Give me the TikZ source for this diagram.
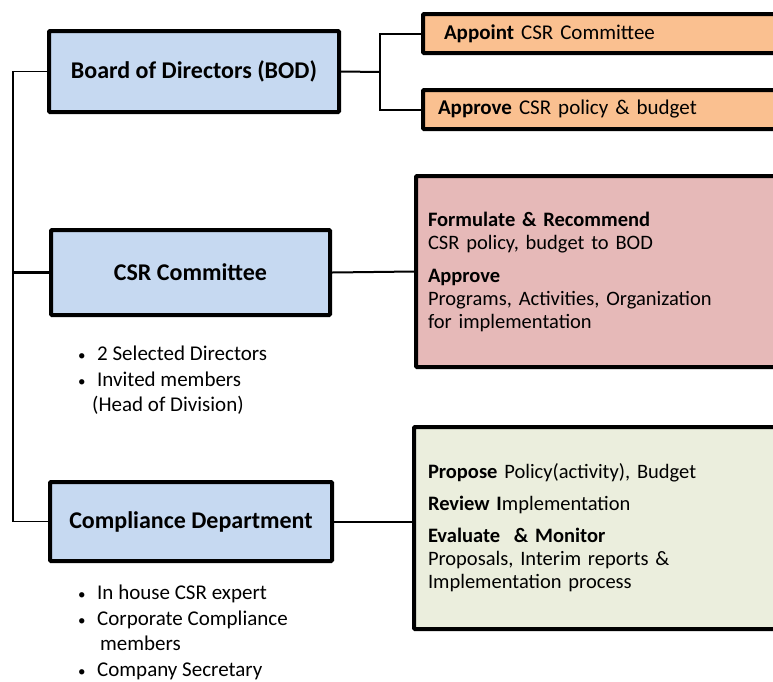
\documentclass[tikz,border=0pt]{standalone}
\usepackage{fontspec}
\setmainfont{Carlito}
\usepackage{xcolor}
\usepackage{tikz}
\usetikzlibrary{positioning, calc}
\definecolor{unitblue}{HTML}{C6D9F1}
\definecolor{taskorange}{HTML}{FAC090}
\definecolor{taskpink}{HTML}{E6B9B8}
\definecolor{taskgreen}{HTML}{EBEEDD}
\tikzstyle{unit} = [rectangle, rounded corners=1pt, draw=black, line width=4pt, fill=unitblue, text centered, font=\bfseries\fontsize{24}{28}\selectfont]
\tikzstyle{task} = [rectangle, rounded corners=1pt, draw=black, line width=4pt, anchor=west, text width=360pt, align=left, inner xsep=14pt, font=\fontsize{20.5}{23}\selectfont]
\tikzstyle{members} = [anchor=north west, align=left, inner sep=0pt, font=\fontsize{21}{25.5}\selectfont]
\tikzstyle{link} = [line width=2pt]
\newcommand{\bul}{\makebox[19pt][l]{\fontsize{15}{15}\selectfont\textbullet}}

\begin{document}
\begin{tikzpicture}[x=1pt, y=-1pt]
\clip (0,0) rectangle (773,681);

% Units on the left
\node (bod) [unit, minimum width=290pt, minimum height=81pt] at (194,71.5) {Board of Directors (BOD)};
\node (csr) [unit, minimum width=279pt, minimum height=85pt] at (190.5,272.5) {CSR Committee};
\node (comp) [unit, minimum width=282pt, minimum height=79pt] at (191,521.5) {Compliance Department};

% Members below the units
\node (csrlist) [members] at (78,346) {\bul 2 Selected Directors\\\bul Invited members\\\hspace{14pt}(Head of Division)};
\node (complist) [members] at (78,585) {\bul In house CSR expert\\\bul Corporate Compliance\\\hspace{22pt}members\\\bul Company Secretary};

% Tasks on the right
\node (appoint) [task, fill=taskorange, minimum height=39pt, inner xsep=21pt, font=\fontsize{21}{24}\selectfont] at (421,33.5) {\textbf{Appoint} CSR Committee};
\node (approve) [task, fill=taskorange, minimum height=39pt, inner xsep=15pt, font=\fontsize{21}{24}\selectfont] at (421,109.5) {\textbf{Approve} CSR policy \& budget};
\node (csrtask) [task, fill=taskpink, minimum height=191pt, inner xsep=12pt] at (414,271.5) {\textbf{Formulate \& Recommend}\\CSR policy, budget to BOD\\[10pt]\textbf{Approve}\\Programs, Activities, Organization\\for implementation};
\node (comptask) [task, fill=taskgreen, minimum height=202pt] at (412,528) {\textbf{Propose} Policy(activity), Budget\\[9pt]\textbf{Review I}mplementation\\[9pt]\textbf{Evaluate\ \ \& Monitor}\\Proposals, Interim reports \&\\Implementation process};

% Connectors
\coordinate (fork) at (380,72);
\coordinate (spine) at (13,300);
\draw [link] (bod.east) -- (fork);
\draw [link] (appoint.west) -| (fork) |- (approve.west);
\draw [link, line width=1.6pt] (bod.west) -| (spine) |- (comp.west);
\draw [link, line width=3pt] (csr.west) -- (csr.west -| spine);
\draw [link] (csr.east) -- (csrtask.west);
\draw [link] (comp.east) -- (comp.east -| comptask.west);

\end{tikzpicture}
\end{document}
